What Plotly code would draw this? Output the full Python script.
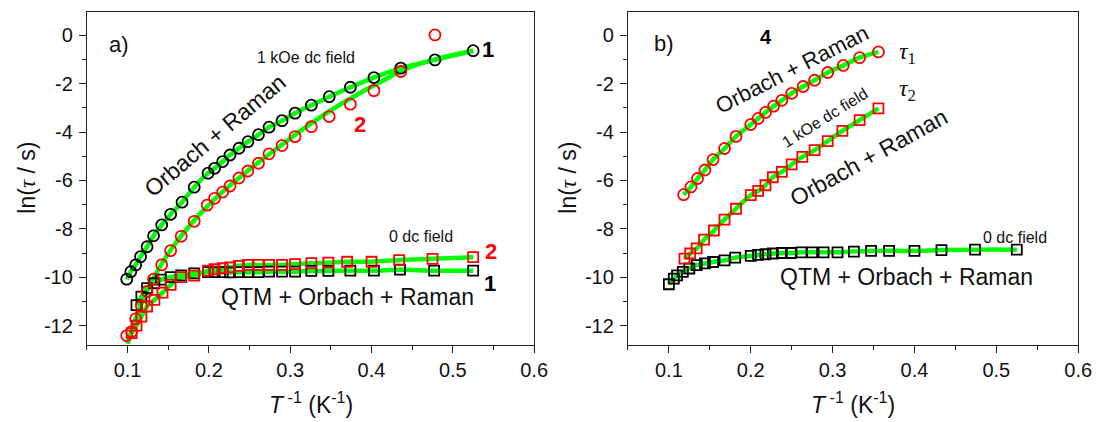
import plotly.graph_objects as go

# ---------------- data ----------------
# panel a) compound 1, 1 kOe dc field (black circles)
x1_field = [0.525, 0.478, 0.436, 0.403, 0.374, 0.348, 0.326, 0.306, 0.290, 0.274, 0.261, 0.248, 0.237, 0.226,
            0.217, 0.207, 0.199, 0.182, 0.167, 0.153, 0.142, 0.132, 0.124, 0.116, 0.110, 0.104, 0.099]
y1_field = [-0.64, -1.02, -1.36, -1.75, -2.15, -2.54, -2.89, -3.22, -3.53, -3.80, -4.11, -4.40, -4.67, -4.95,
            -5.22, -5.50, -5.70, -6.28, -6.90, -7.40, -7.84, -8.29, -8.74, -9.15, -9.49, -9.77, -10.08]
# panel a) compound 2, 1 kOe dc field (red circles)
x2_field = [0.478, 0.436, 0.403, 0.374, 0.348, 0.326, 0.306, 0.290, 0.274, 0.261, 0.248, 0.237, 0.226,
            0.217, 0.207, 0.198, 0.182, 0.166, 0.153, 0.142, 0.132, 0.124, 0.117, 0.110, 0.105, 0.099]
y2_field = [0.01, -1.50, -2.29, -2.85, -3.36, -3.78, -4.19, -4.56, -4.90, -5.29, -5.61, -5.90, -6.23,
            -6.48, -6.74, -7.02, -7.69, -8.31, -8.90, -9.49, -10.08, -10.59, -11.19, -11.72, -12.25, -12.41]
# fit curve of compound 2, 1 kOe
fit2_x = [0.100, 0.105, 0.115, 0.125, 0.140, 0.155, 0.170, 0.190, 0.210, 0.235, 0.260, 0.290, 0.320,
          0.350, 0.380, 0.410, 0.440, 0.480, 0.525]
fit2_y = [-12.75, -12.2, -11.25, -10.5, -9.55, -8.78, -8.12, -7.35, -6.68, -5.95, -5.28, -4.52, -3.78,
          -3.10, -2.50, -1.95, -1.42, -0.98, -0.64]
# panel a) compound 1, zero dc field (black squares)
x1_zero = [0.525, 0.477, 0.435, 0.403, 0.374, 0.347, 0.326, 0.306, 0.290, 0.274, 0.261, 0.248, 0.237,
           0.226, 0.217, 0.207, 0.199, 0.182, 0.166, 0.153, 0.141, 0.133, 0.124, 0.117, 0.111]
y1_zero = [-9.73, -9.73, -9.69, -9.73, -9.73, -9.74, -9.74, -9.77, -9.77, -9.77, -9.79, -9.79, -9.79,
           -9.80, -9.79, -9.79, -9.79, -9.84, -9.92, -10.0, -10.1, -10.25, -10.45, -10.8, -11.15]
# panel a) compound 2, zero dc field (red squares)
x2_zero = [0.525, 0.475, 0.434, 0.400, 0.370, 0.347, 0.326, 0.306, 0.290, 0.274, 0.261, 0.248, 0.237,
           0.226, 0.217, 0.207, 0.199, 0.182, 0.166, 0.153, 0.143, 0.133, 0.124, 0.117, 0.111, 0.105]
y2_zero = [-9.17, -9.24, -9.29, -9.36, -9.36, -9.40, -9.42, -9.46, -9.49, -9.49, -9.49, -9.49, -9.53,
           -9.59, -9.63, -9.67, -9.73, -9.93, -10.0, -10.32, -10.64, -10.94, -11.21, -11.63, -12.0, -12.31]

# panel b) compound 4, 1 kOe: tau1 (red circles), tau2 (red squares)
x4_t1 = [0.356, 0.333, 0.313, 0.294, 0.278, 0.264, 0.250, 0.238, 0.228, 0.218, 0.209, 0.200, 0.182,
         0.168, 0.154, 0.144, 0.135, 0.127, 0.118]
y4_t1 = [-0.69, -0.93, -1.25, -1.54, -1.86, -2.12, -2.40, -2.69, -2.93, -3.19, -3.44, -3.69, -4.18,
         -4.68, -5.14, -5.57, -5.92, -6.27, -6.59]
x4_t2 = [0.356, 0.333, 0.312, 0.294, 0.278, 0.263, 0.250, 0.238, 0.227, 0.218, 0.209, 0.200, 0.182,
         0.168, 0.155, 0.143, 0.134, 0.126, 0.119]
y4_t2 = [-3.02, -3.51, -3.95, -4.38, -4.75, -5.03, -5.34, -5.65, -5.87, -6.20, -6.43, -6.61, -7.17,
         -7.62, -8.07, -8.45, -8.81, -9.02, -9.23]
# panel b) compound 4, zero dc field (black squares)
x4_zero = [0.525, 0.474, 0.433, 0.400, 0.369, 0.347, 0.326, 0.306, 0.289, 0.275, 0.262, 0.249, 0.238,
           0.227, 0.218, 0.209, 0.200, 0.181, 0.168, 0.154, 0.144, 0.134, 0.125, 0.117, 0.110, 0.106, 0.100]
y4_zero = [-8.86, -8.86, -8.88, -8.91, -8.91, -8.91, -8.94, -8.97, -8.97, -8.97, -8.97, -9.0, -9.0,
           -9.02, -9.05, -9.08, -9.12, -9.19, -9.30, -9.37, -9.43, -9.50, -9.64, -9.78, -9.92, -10.06, -10.29]

# tick labels
x_tickvals = [0.1, 0.2, 0.3, 0.4, 0.5, 0.6]
x_ticktext = ["0.1", "0.2", "0.3", "0.4", "0.5", "0.6"]
y_tickvals = [0, -2, -4, -6, -8, -10, -12]
y_ticktext = ["0", "-2", "-4", "-6", "-8", "-10", "-12"]

# ---------------- figure ----------------
W, H = 1106, 422
GREEN = "#00ff00"
RED = "#ff0000"
BLACK = "#000000"
FONT = "Liberation Sans, Arial, sans-serif"

fig = go.Figure()


def fit_line(x, y, xa, ya):
    fig.add_trace(go.Scatter(x=x, y=y, mode="lines", xaxis=xa, yaxis=ya, showlegend=False,
                             line=dict(color=GREEN, width=4.5, shape="spline", smoothing=1.0),
                             hoverinfo="skip"))


def pts(x, y, xa, ya, color, symbol, size):
    fig.add_trace(go.Scatter(x=x, y=y, mode="markers", xaxis=xa, yaxis=ya, showlegend=False,
                             marker=dict(symbol=symbol, size=size, color=color,
                                         line=dict(width=1.8, color=color))))


# panel a
fit_line(x1_field, y1_field, "x", "y")
fit_line(fit2_x, fit2_y, "x", "y")
fit_line(x1_zero, y1_zero, "x", "y")
fit_line(x2_zero, y2_zero, "x", "y")
pts(x1_zero, y1_zero, "x", "y", BLACK, "square-open", 10)
pts(x2_zero, y2_zero, "x", "y", RED, "square-open", 10)
pts(x1_field, y1_field, "x", "y", BLACK, "circle-open", 11)
pts(x2_field, y2_field, "x", "y", RED, "circle-open", 11)

# panel b
fit_line(x4_t1, y4_t1, "x2", "y2")
fit_line(x4_t2, y4_t2, "x2", "y2")
fit_line(x4_zero, y4_zero, "x2", "y2")
pts(x4_zero, y4_zero, "x2", "y2", BLACK, "square-open", 10)
pts(x4_t2, y4_t2, "x2", "y2", RED, "square-open", 10)
pts(x4_t1, y4_t1, "x2", "y2", RED, "circle-open", 11)

ydom = [1 - 344.5 / H, 1 - 11.5 / H]
xdom1 = [88 / W, 541 / W]
xdom2 = [636 / W, 1092 / W]

axis_common = dict(
    showline=True, linecolor="#222222", linewidth=1.2, mirror=True,
    ticks="outside", ticklen=7, tickwidth=1.2, tickcolor="#222222",
    showgrid=False, zeroline=False,
    tickfont=dict(family=FONT, size=20, color="#111111"),
)
xax = dict(axis_common, range=[0.05, 0.6], tickvals=x_tickvals, ticktext=x_ticktext,
           minor=dict(dtick=0.05, tick0=0.05, ticks="outside", ticklen=4, tickwidth=1.2, tickcolor="#222222"),
           ticklabelstandoff=0)
yax = dict(axis_common, range=[-12.78, 0.98], tickvals=y_tickvals, ticktext=y_ticktext,
           minor=dict(dtick=1, tick0=1, ticks="outside", ticklen=4, tickwidth=1.2, tickcolor="#222222"),
           ticklabelstandoff=2)

fig.update_layout(
    width=W, height=H,
    margin=dict(l=0, r=0, t=0, b=0),
    paper_bgcolor="white", plot_bgcolor="white",
    showlegend=False,
    xaxis=dict(xax, domain=xdom1, anchor="y"),
    yaxis=dict(yax, domain=ydom, anchor="x"),
    xaxis2=dict(xax, domain=xdom2, anchor="y2"),
    yaxis2=dict(yax, domain=ydom, anchor="x2"),
)

ann = []


def txt(text, x, y, xref, yref, size, color="#111111", angle=0, bold=False, family=FONT):
    ann.append(dict(text=("<b>%s</b>" % text) if bold else text, x=x, y=y, xref=xref, yref=yref,
                    showarrow=False, textangle=angle, xanchor="center", yanchor="middle",
                    font=dict(family=family, size=size, color=color)))


# panel a labels
txt("a)", 0.089, -0.40, "x", "y", 22)
txt("1 kOe dc field", 0.319, -0.94, "x", "y", 16)
txt("Orbach + Raman", 0.208, -4.12, "x", "y", 23, angle=-40)
txt("1", 0.543, -0.61, "x", "y", 22, color=BLACK, bold=True)
txt("2", 0.386, -3.67, "x", "y", 22, color=RED, bold=True)
txt("0 dc field", 0.461, -8.33, "x", "y", 16)
txt("2", 0.547, -8.95, "x", "y", 22, color=RED, bold=True)
txt("1", 0.546, -10.24, "x", "y", 22, color=BLACK, bold=True)
txt("QTM + Orbach + Raman", 0.370, -10.81, "x", "y", 23)

# panel b labels
SERIF = "Liberation Serif, Times New Roman, serif"
txt("b)", 0.094, -0.33, "x2", "y2", 22)
txt("4", 0.219, -0.08, "x2", "y2", 20, color=BLACK, bold=True)
txt("Orbach + Raman", 0.250, -1.42, "x2", "y2", 22, angle=-27)
txt("<i>τ</i><sub>1</sub>", 0.392, -0.74, "x2", "y2", 24, family=SERIF)
txt("<i>τ</i><sub>2</sub>", 0.392, -2.27, "x2", "y2", 24, family=SERIF)
txt("1 kOe dc field", 0.291, -3.40, "x2", "y2", 16, angle=-32)
txt("Orbach + Raman", 0.345, -5.05, "x2", "y2", 23, angle=-29)
txt("0 dc field", 0.523, -8.35, "x2", "y2", 16)
txt("QTM + Orbach + Raman", 0.390, -10.0, "x2", "y2", 23)

# axis titles
xtitle = "<i>T</i><sup> -1</sup> (K<sup>-1</sup>)"
ytitle = "ln(<span style=\"font-family:Liberation Serif\"><i>τ</i></span> / s)"
txt(xtitle, (88 + 541) / 2 / W, 1 - 403 / H, "paper", "paper", 23)
txt(xtitle, (636 + 1092) / 2 / W, 1 - 403 / H, "paper", "paper", 23)
txt(ytitle, 27 / W, 1 - 178 / H, "paper", "paper", 23, angle=-90)
txt(ytitle, 575 / W, 1 - 178 / H, "paper", "paper", 23, angle=-90)

fig.update_layout(annotations=ann)

fig.write_html("out.html",
               config={"displayModeBar": False},
               post_script="document.body.style.margin='0';document.body.style.overflow='hidden';")
